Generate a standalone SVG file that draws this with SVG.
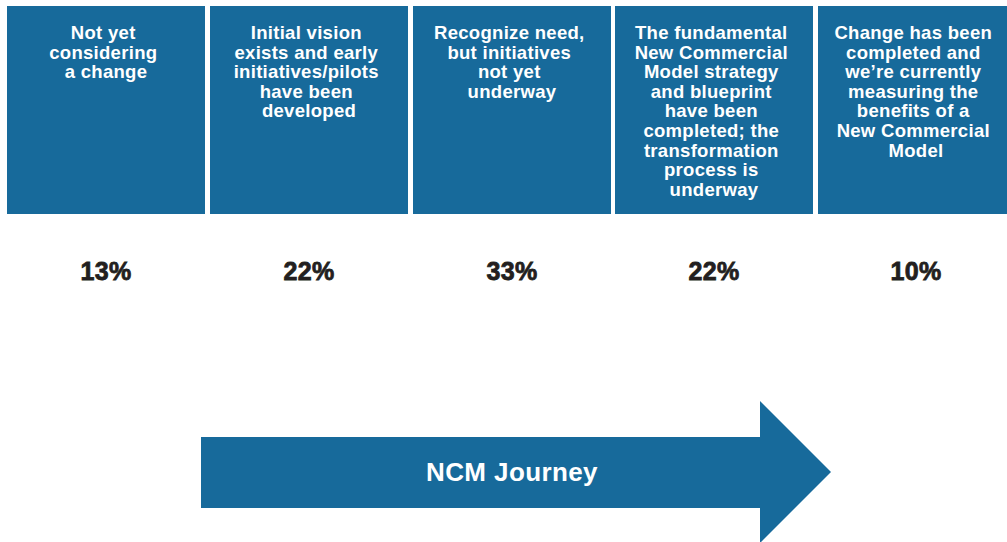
<svg xmlns="http://www.w3.org/2000/svg" width="1007" height="542" viewBox="0 0 1007 542">
  <style>
    .stage { fill: #176a9b; }
    .label { font-family: "Liberation Sans", Arial, sans-serif; font-weight: bold; font-size: 18.5px; fill: #ffffff; text-anchor: middle; letter-spacing: 0.3px; }
    .pct { font-family: "Liberation Sans", Arial, sans-serif; font-weight: bold; font-size: 25px; fill: #231f20; stroke: #231f20; stroke-width: 0.8px; text-anchor: middle; letter-spacing: 0.3px; }
    .journey { font-family: "Liberation Sans", Arial, sans-serif; font-weight: bold; font-size: 26px; fill: #ffffff; text-anchor: middle; letter-spacing: 0.4px; }
  </style>
  <rect width="1007" height="542" fill="#ffffff"/>

  <g id="stage1">
    <rect class="stage" x="7" y="6" width="198" height="208"/>
    <text class="label">
      <tspan x="106" y="39">Not yet</tspan>
      <tspan x="106" y="58.6">considering</tspan>
      <tspan x="106" y="78.2">a change</tspan>
    </text>
    <text class="pct" x="106" y="280">13%</text>
  </g>

  <g id="stage2">
    <rect class="stage" x="210" y="6" width="198" height="208"/>
    <text class="label">
      <tspan x="309" y="39">Initial vision</tspan>
      <tspan x="309" y="58.6">exists and early</tspan>
      <tspan x="309" y="78.2">initiatives/pilots</tspan>
      <tspan x="309" y="97.8">have been</tspan>
      <tspan x="309" y="117.4">developed</tspan>
    </text>
    <text class="pct" x="309" y="280">22%</text>
  </g>

  <g id="stage3">
    <rect class="stage" x="413" y="6" width="198" height="208"/>
    <text class="label">
      <tspan x="512" y="39">Recognize need,</tspan>
      <tspan x="512" y="58.6">but initiatives</tspan>
      <tspan x="512" y="78.2">not yet</tspan>
      <tspan x="512" y="97.8">underway</tspan>
    </text>
    <text class="pct" x="512" y="280">33%</text>
  </g>

  <g id="stage4">
    <rect class="stage" x="615" y="6" width="198" height="208"/>
    <text class="label">
      <tspan x="714" y="39">The fundamental</tspan>
      <tspan x="714" y="58.6">New Commercial</tspan>
      <tspan x="714" y="78.2">Model strategy</tspan>
      <tspan x="714" y="97.8">and blueprint</tspan>
      <tspan x="714" y="117.4">have been</tspan>
      <tspan x="714" y="137">completed; the</tspan>
      <tspan x="714" y="156.6">transformation</tspan>
      <tspan x="714" y="176.2">process is</tspan>
      <tspan x="714" y="195.8">underway</tspan>
    </text>
    <text class="pct" x="714" y="280">22%</text>
  </g>

  <g id="stage5">
    <rect class="stage" x="818" y="6" width="198" height="208"/>
    <text class="label">
      <tspan x="916" y="39">Change has been</tspan>
      <tspan x="916" y="58.6">completed and</tspan>
      <tspan x="916" y="78.2">we’re currently</tspan>
      <tspan x="916" y="97.8">measuring the</tspan>
      <tspan x="916" y="117.4">benefits of a</tspan>
      <tspan x="916" y="137">New Commercial</tspan>
      <tspan x="916" y="156.6">Model</tspan>
    </text>
    <text class="pct" x="916" y="280">10%</text>
  </g>

  <g id="journey-arrow">
    <polygon class="stage" points="201,437 760,437 760,401 831,472 760,543 760,508 201,508"/>
    <text class="journey" x="512" y="481">NCM Journey</text>
  </g>
</svg>
